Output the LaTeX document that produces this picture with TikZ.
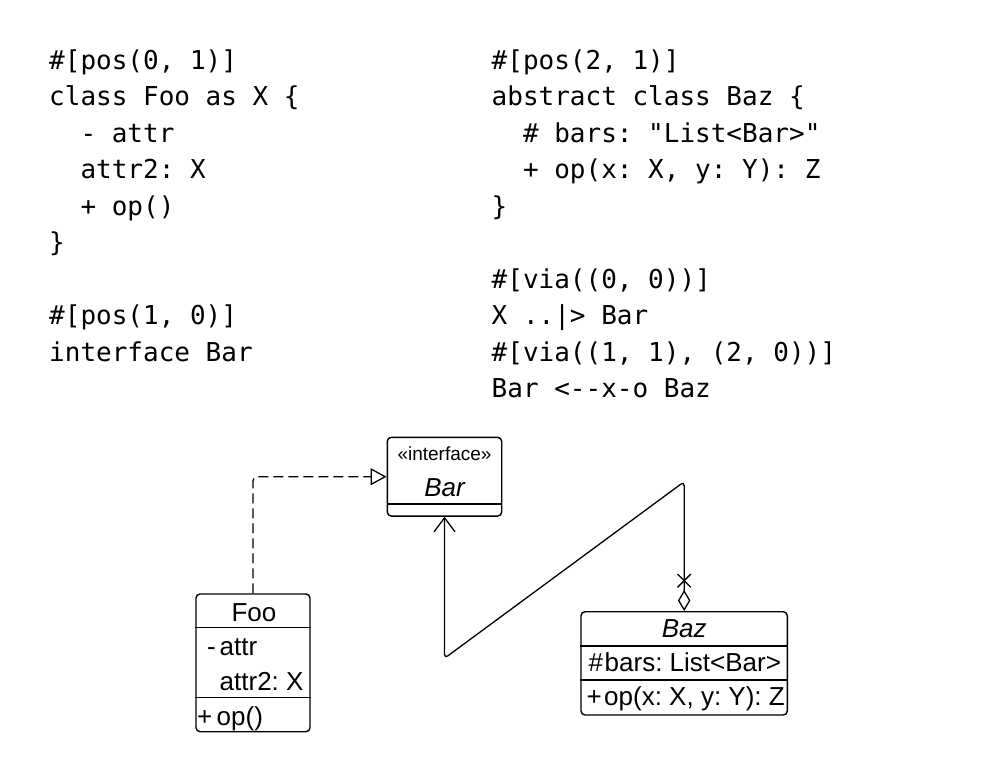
\documentclass[tikz,border=0pt]{standalone}
\usepackage{fontspec}
\setsansfont{Liberation Sans}
\setmonofont{DejaVu Sans Mono}
\usepackage{tikz}
\usetikzlibrary{arrows.meta}
\usetikzlibrary{shapes.misc}
\tikzset{%
  tipV/.tip={Straight Barb[length=14pt,width=21pt]},
  tipT/.tip={Triangle[open,length=16pt,width=17pt]},
  tipD/.tip={Diamond[open,length=21pt,width=12.5pt]},
  codeline/.style={anchor=base west, inner sep=0pt, font=\ttfamily\fontsize{26}{30}\selectfont},
  umltext/.style={inner sep=0pt, font=\sffamily\fontsize{26}{30}\selectfont},
  classbox/.style={draw, line width=1.4pt, rounded corners=4pt, inner sep=0pt},
  link/.style={line width=1.3pt, rounded corners=4pt}
}
\frenchspacing

\begin{document}
\begin{tikzpicture}[x=1pt,y=-1pt]
    \useasboundingbox (0,0) rectangle (984,781);
    % source text
    \node[codeline] (srcL1) at (49,69.3) {\#[pos(0, 1)]};
    \node[codeline] (srcL2) at (49,105.8) {class Foo as X \{};
    \node[codeline] (srcL3) at (49,142.3) {\ \ - attr};
    \node[codeline] (srcL4) at (49,178.8) {\ \ attr2: X};
    \node[codeline] (srcL5) at (49,215.3) {\ \ + op()};
    \node[codeline] (srcL6) at (49,251.8) {\}};
    \node[codeline] (srcL8) at (49,324.8) {\#[pos(1, 0)]};
    \node[codeline] (srcL9) at (49,361.3) {interface Bar};
    \node[codeline] (srcR1) at (491.5,69.3) {\#[pos(2, 1)]};
    \node[codeline] (srcR2) at (491.5,105.8) {abstract class Baz \{};
    \node[codeline] (srcR3) at (491.5,142.3) {\ \ \# bars: "List<Bar>"};
    \node[codeline] (srcR4) at (491.5,178.8) {\ \ + op(x: X, y: Y): Z};
    \node[codeline] (srcR5) at (491.5,215.3) {\}};
    \node[codeline] (srcR7) at (491.5,288.3) {\#[via((0, 0))]};
    \node[codeline] (srcR8) at (491.5,324.8) {X ..|> Bar};
    \node[codeline] (srcR9) at (491.5,361.3) {\#[via((1, 1), (2, 0))]};
    \node[codeline] (srcR10) at (491.5,397.8) {Bar <-{}-x-o Baz};
    % Bar
    \node[classbox, minimum width=114.4pt, minimum height=78.7pt] (bar) at (444.5,476.7) {};
    \draw[line width=1.4pt] (bar.west |- 0,504) -- (bar.east |- 0,504);
    \node[umltext, font=\sffamily\fontsize{19}{22}\selectfont, anchor=base] (barStereo) at (444.5,460) {«interface»};
    \node[umltext, anchor=base] (barName) at (444.5,496) {\itshape Bar};
    % Foo
    \node[classbox, minimum width=114pt, minimum height=137.7pt] (foo) at (253,662.85) {};
    \draw[line width=1.4pt] (foo.west |- 0,627.7) -- (foo.east |- 0,627.7);
    \draw[line width=1.4pt] (foo.west |- 0,697.3) -- (foo.east |- 0,697.3);
    \node[umltext, anchor=base] (fooName) at (254,621.5) {Foo};
    \node[umltext, anchor=base west] (fooVis1) at (207,655.5) {-};
    \node[umltext, anchor=base west] (fooAttr1) at (219.5,655.5) {attr};
    \node[umltext, anchor=base west] (fooAttr2) at (219.5,690) {attr2: X};
    \node[umltext, anchor=base west] (fooVis3) at (197,725.5) {+};
    \node[umltext, anchor=base west] (fooOp1) at (216.5,725.5) {op()};
    % Baz
    \node[classbox, minimum width=206.3pt, minimum height=103.3pt] (baz) at (684.15,663.35) {};
    \draw[line width=1.4pt] (baz.west |- 0,646) -- (baz.east |- 0,646);
    \draw[line width=1.4pt] (baz.west |- 0,680) -- (baz.east |- 0,680);
    \node[umltext, anchor=base] (bazName) at (684.15,637.5) {\itshape Baz};
    \node[umltext, anchor=base west] (bazVis1) at (588.5,671.5) {\#};
    \node[umltext, anchor=base west] (bazAttr1) at (604.5,671.5) {bars: List<Bar>};
    \node[umltext, anchor=base west] (bazVis2) at (586.5,705.5) {+};
    \node[umltext, anchor=base west] (bazOp1) at (604,705.5) {op(x: X, y: Y): Z};
    % X ..|> Bar
    \draw[link, dash pattern=on 10pt off 5pt, -tipT] (foo.north) |- (bar.west);
    % Bar <--x-o Baz
    \coordinate (turnLow) at (bar.south |- 0,658.3);
    \coordinate (turnTop) at (baz.north |- 0,481.7);
    \draw[link, tipV-tipD] (bar.south) -- (turnLow) -- (turnTop) -- (baz.north);
    \node[draw, cross out, line width=1.3pt, minimum size=12pt, inner sep=0pt] (bazNav) at (baz.north |- 0,580.7) {};
\end{tikzpicture}
\end{document}
